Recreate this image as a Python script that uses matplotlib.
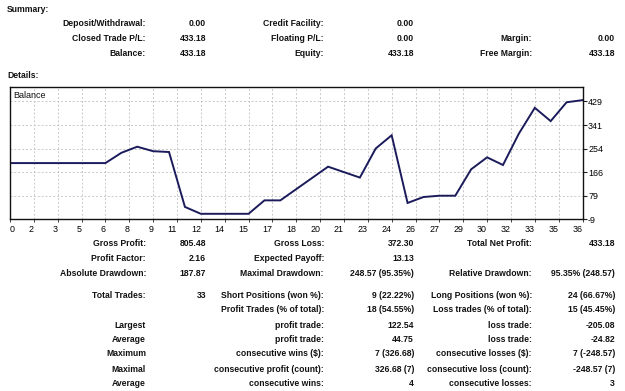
import numpy as np
import matplotlib
matplotlib.use("Agg")
import matplotlib.pyplot as plt

plt.rcParams['font.family'] = ['Liberation Sans', 'DejaVu Sans']
plt.rcParams['axes.unicode_minus'] = False

# Balance curve (trade number -> balance)
trades = list(range(37))
balance = [200.0, 200.0, 200.0, 200.0, 200.0, 200.0, 200.0, 238.0, 260.7, 244.0,
           241.0, 37.6, 12.1, 12.1, 12.1, 12.1, 61.9, 61.9, 103.5, 145.0,
           186.7, 166.5, 146.3, 254.2, 303.0, 52.3, 74.3, 79.1, 79.1, 177.1,
           221.2, 192.9, 309.3, 404.7, 355.5, 425.3, 433.18]
y_ticks = [-9, 79, 166, 254, 341, 429]

# Summary block
sum_lab1 = ["Deposit/Withdrawal:", "Closed Trade P/L:", "Balance:"]
sum_val1 = ["0.00", "433.18", "433.18"]
sum_lab2 = ["Credit Facility:", "Floating P/L:", "Equity:"]
sum_val2 = ["0.00", "0.00", "433.18"]
sum_lab3 = ["", "Margin:", "Free Margin:"]
sum_val3 = ["", "0.00", "433.18"]

# Details block
det_lab1 = ["Gross Profit:", "Profit Factor:", "Absolute Drawdown:", "Total Trades:", "",
            "Largest", "Average", "Maximum", "Maximal", "Average"]
det_val1 = ["805.48", "2.16", "187.87", "33", "", "", "", "", "", ""]
det_lab2 = ["Gross Loss:", "Expected Payoff:", "Maximal Drawdown:", "Short Positions (won %):",
            "Profit Trades (% of total):", "profit trade:", "profit trade:",
            "consecutive wins ($):", "consecutive profit (count):", "consecutive wins:"]
det_val2 = ["372.30", "13.13", "248.57 (95.35%)", "9 (22.22%)", "18 (54.55%)",
            "122.54", "44.75", "7 (326.68)", "326.68 (7)", "4"]
det_lab3 = ["Total Net Profit:", "", "Relative Drawdown:", "Long Positions (won %):",
            "Loss trades (% of total):", "loss trade:", "loss trade:",
            "consecutive losses ($):", "consecutive loss (count):", "consecutive losses:"]
det_val3 = ["433.18", "", "95.35% (248.57)", "24 (66.67%)", "15 (45.45%)",
            "-205.08", "-24.82", "7 (-248.57)", "-248.57 (7)", "3"]

W, H = 625, 391
fig = plt.figure(figsize=(W / 100, H / 100), dpi=100)
fig.patch.set_facecolor('white')


def px(x, y):
    return x / W, 1 - y / H


def put(x, y, s, ha='right', bold=True, size=6.2):
    if not s:
        return
    fig.text(*px(x, y), s, ha=ha, va='center', fontsize=size,
             fontweight='bold' if bold else 'normal', color='#111111')


# column anchors (right edges, px)
cols = [146, 206, 324, 414, 532, 615]

put(7, 10, "Summary:", ha='left')
for i, y in enumerate([24, 38.5, 53]):
    put(cols[0], y, sum_lab1[i])
    put(cols[1], y, sum_val1[i])
    put(cols[2], y, sum_lab2[i])
    put(cols[3], y, sum_val2[i])
    put(cols[4], y, sum_lab3[i])
    put(cols[5], y, sum_val3[i])

put(7, 75, "Details:", ha='left')
rows_y = [244, 258.5, 273, 295, 310, 325, 339.5, 354, 369, 384]
for i, y in enumerate(rows_y):
    put(cols[0], y, det_lab1[i])
    put(cols[1], y, det_val1[i])
    put(cols[2], y, det_lab2[i])
    put(cols[3], y, det_val2[i])
    put(cols[4], y, det_lab3[i])
    put(cols[5], y, det_val3[i])

# chart
left, right, top, bottom = 10, 582.5, 87.5, 219.5
ax = fig.add_axes([left / W, 1 - bottom / H, (right - left) / W, (bottom - top) / H])
ax.plot(trades, balance, color='#1b1b5c', lw=1.4, solid_joinstyle='miter')
ax.set_xlim(0, 36)
ax.set_ylim(-9, 480)

xt = [1.5 * i for i in range(25)]
xl = [str(int(np.floor(v + 0.5))) for v in xt]
ax.set_xticks(xt)
ax.set_xticklabels(xl, fontsize=6.4)
for i, t in enumerate(ax.get_xticklabels()):
    t.set_ha('left' if i == 0 else 'right')

ax.yaxis.tick_right()
ax.set_yticks(y_ticks)
ax.set_yticklabels([str(v) for v in y_ticks], fontsize=6.4)
ax.tick_params(axis='y', length=3, width=0.8, pad=1, color='#222222')
ax.tick_params(axis='x', length=2, width=0.6, pad=2, color='#222222')

for v in xt[1:-1]:
    ax.axvline(v, color='#c8c8c8', lw=0.7, ls=(0, (2, 2)), zorder=0)
for v in y_ticks[1:]:
    ax.axhline(v, color='#c8c8c8', lw=0.7, ls=(0, (2, 2)), zorder=0)

for s in ax.spines.values():
    s.set_color('#111111')
    s.set_linewidth(1.0)

ax.text(0.005, 0.94, "Balance", transform=ax.transAxes, fontsize=6.5,
        ha='left', va='center', color='#111111')

fig.savefig("out.png", dpi=100)
